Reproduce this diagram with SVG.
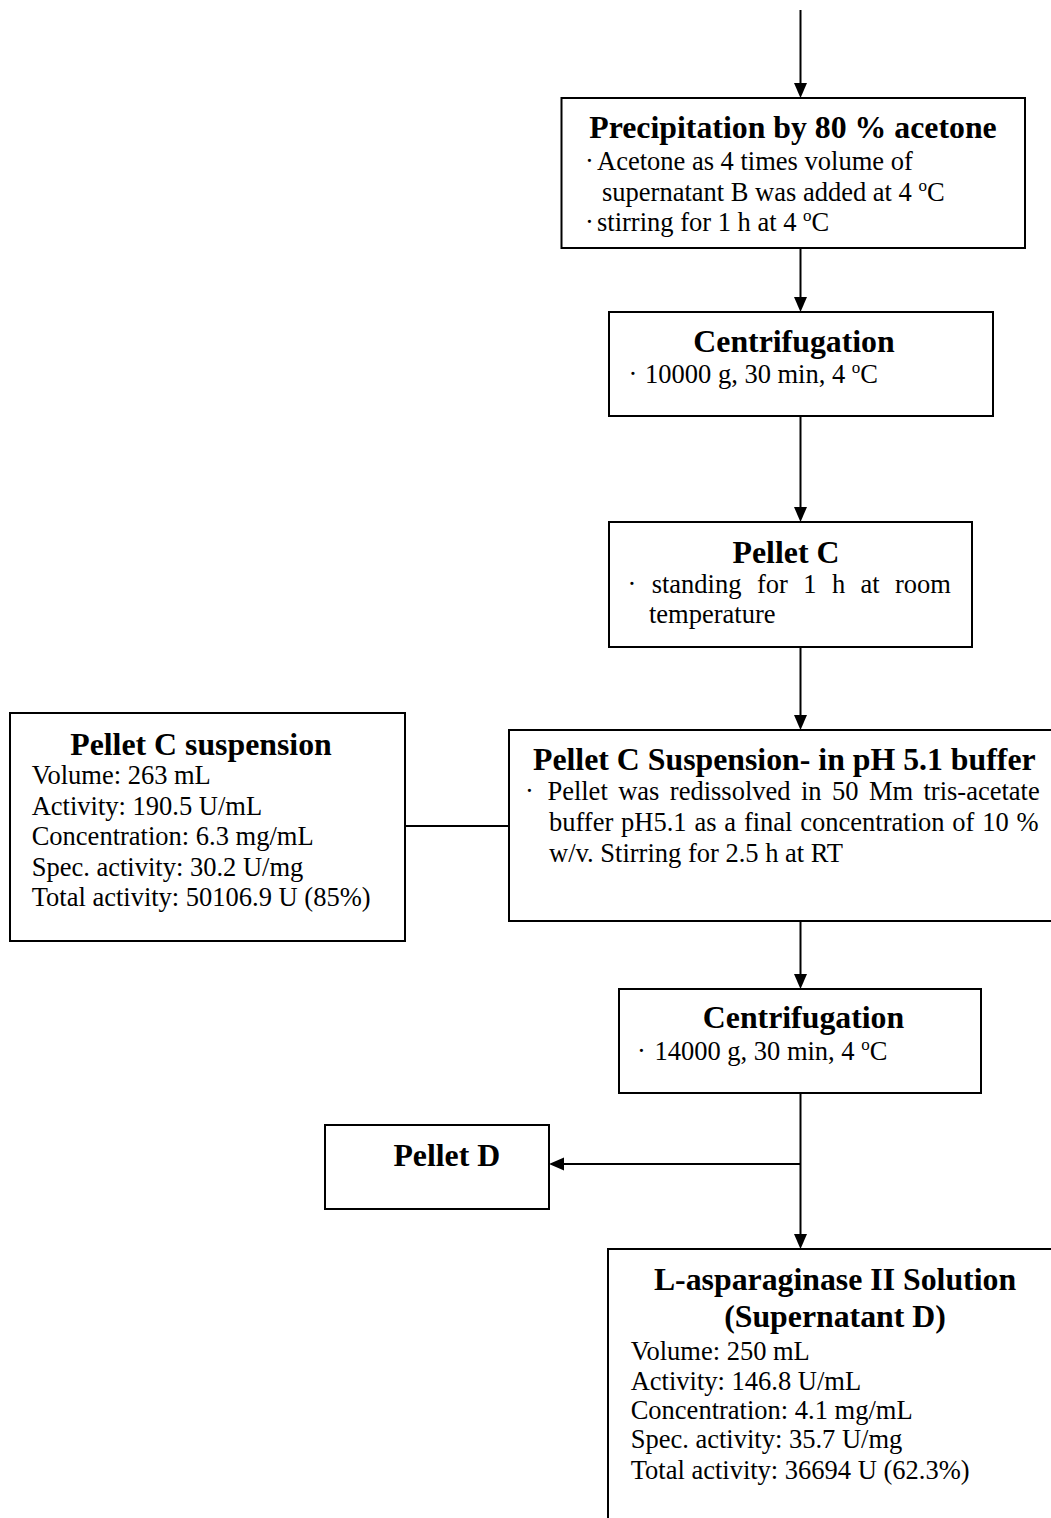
<svg xmlns="http://www.w3.org/2000/svg" width="1051" height="1518" viewBox="0 0 1051 1518">
<style>
.box{fill:#fff;stroke:#000;stroke-width:2}
.t{font-family:"Liberation Serif","Times New Roman",serif;font-weight:bold;font-size:31.8px;fill:#000}
.b{font-family:"Liberation Serif","Times New Roman",serif;font-size:26.5px;fill:#000}
.sup{font-size:17px}
.c{stroke:#000;stroke-width:2;fill:none}
.ca{stroke:#000;stroke-width:2;fill:none;marker-end:url(#ah)}
</style>
<defs>
<marker id="ah" markerUnits="userSpaceOnUse" markerWidth="16" markerHeight="14" refX="10" refY="6.5" orient="auto">
<path d="M0,0 L15,6.5 L0,13 Z" fill="#000"/>
</marker>
</defs>
<rect width="1051" height="1518" fill="#fff"/>

<g id="connectors">
<line class="ca" x1="800.5" y1="10" x2="800.5" y2="93"/>
<line class="ca" x1="800.5" y1="248" x2="800.5" y2="307"/>
<line class="ca" x1="800.5" y1="416" x2="800.5" y2="517"/>
<line class="ca" x1="800.5" y1="647" x2="800.5" y2="725"/>
<line class="c" x1="405" y1="826" x2="509" y2="826"/>
<line class="ca" x1="800.5" y1="921" x2="800.5" y2="984"/>
<line class="ca" x1="800.5" y1="1093" x2="800.5" y2="1244"/>
<line class="ca" x1="800.5" y1="1164" x2="554" y2="1164"/>
</g>

<g id="n1">
<rect class="box" x="561.5" y="98" width="463.5" height="150"/>
<text class="t" x="793" y="138" text-anchor="middle">Precipitation by 80 % acetone</text>
<text class="b" y="170"><tspan x="585">·</tspan><tspan x="597">Acetone as 4 times volume of</tspan></text>
<text class="b" x="602" y="201">supernatant B was added at 4 <tspan class="sup" dy="-10">o</tspan><tspan dy="10">C</tspan></text>
<text class="b" y="231"><tspan x="585">·</tspan><tspan x="597">stirring for 1 h at 4 </tspan><tspan class="sup" dy="-10">o</tspan><tspan dy="10">C</tspan></text>
</g>

<g id="n2">
<rect class="box" x="609" y="312" width="384" height="104"/>
<text class="t" x="794" y="352" text-anchor="middle">Centrifugation</text>
<text class="b" y="383"><tspan x="628.5">·</tspan><tspan x="645">10000 g, 30 min, 4 </tspan><tspan class="sup" dy="-10">o</tspan><tspan dy="10">C</tspan></text>
</g>

<g id="n3">
<rect class="box" x="609" y="522" width="363" height="125"/>
<text class="t" x="786" y="563" text-anchor="middle">Pellet C</text>
<text class="b" y="593"><tspan x="627.5">·</tspan><tspan x="651.7">standing</tspan><tspan x="756.9">for</tspan><tspan x="803.2">1</tspan><tspan x="831.9">h</tspan><tspan x="860.5">at</tspan><tspan x="895">room</tspan></text>
<text class="b" x="649" y="623">temperature</text>
</g>

<g id="n4">
<rect class="box" x="509" y="730" width="560" height="191"/>
<text class="t" x="533" y="770">Pellet C Suspension- in pH 5.1 buffer</text>
<text class="b" y="800"><tspan x="525">·</tspan><tspan x="547.4" word-spacing="3.8">Pellet was redissolved in 50 Mm tris-acetate</tspan></text>
<text class="b" x="549" y="831" word-spacing="1.2">buffer pH5.1 as a final concentration of 10 %</text>
<text class="b" x="549" y="862">w/v. Stirring for 2.5 h at RT</text>
</g>

<g id="n5">
<rect class="box" x="10" y="713" width="395" height="228"/>
<text class="t" x="201" y="755" text-anchor="middle">Pellet C suspension</text>
<text class="b" x="31.7" y="784">Volume: 263 mL</text>
<text class="b" x="31.7" y="814.5">Activity: 190.5 U/mL</text>
<text class="b" x="31.7" y="845">Concentration: 6.3 mg/mL</text>
<text class="b" x="31.7" y="875.5">Spec. activity: 30.2 U/mg</text>
<text class="b" x="31.7" y="906">Total activity: 50106.9 U (85%)</text>
</g>

<g id="n6">
<rect class="box" x="619" y="989" width="362" height="104"/>
<text class="t" x="803.5" y="1028" text-anchor="middle">Centrifugation</text>
<text class="b" y="1060"><tspan x="637">·</tspan><tspan x="654.4">14000 g, 30 min, 4 </tspan><tspan class="sup" dy="-10">o</tspan><tspan dy="10">C</tspan></text>
</g>

<g id="n7">
<rect class="box" x="325" y="1125" width="224" height="84"/>
<text class="t" x="393.4" y="1166">Pellet D</text>
</g>

<g id="n8">
<rect class="box" x="608" y="1249" width="460" height="290"/>
<text class="t" x="835" y="1290" text-anchor="middle">L-asparaginase II Solution</text>
<text class="t" x="835" y="1327" text-anchor="middle">(Supernatant D)</text>
<text class="b" x="630.7" y="1359.5">Volume: 250 mL</text>
<text class="b" x="630.7" y="1389.5">Activity: 146.8 U/mL</text>
<text class="b" x="630.7" y="1418.5">Concentration: 4.1 mg/mL</text>
<text class="b" x="630.7" y="1448">Spec. activity: 35.7 U/mg</text>
<text class="b" x="630.7" y="1478.5">Total activity: 36694 U (62.3%)</text>
</g>
</svg>
